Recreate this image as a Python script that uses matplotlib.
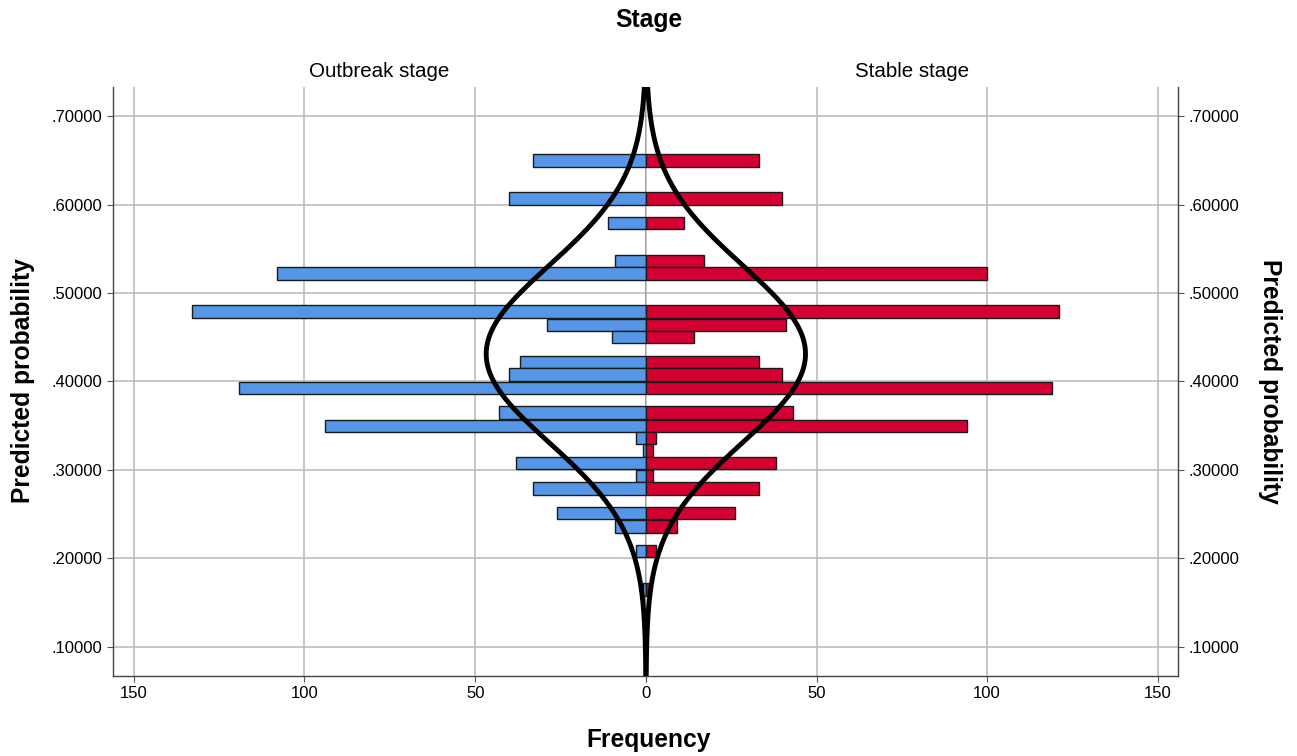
import numpy as np
import matplotlib.pyplot as plt

plt.rcParams['font.family'] = ['Liberation Sans', 'DejaVu Sans']

# bin centres of predicted probability and counts per stage
prob = [0.650, 0.607, 0.579, 0.536, 0.522, 0.479, 0.464, 0.450, 0.422, 0.408, 0.393,
        0.365, 0.350, 0.336, 0.322, 0.308, 0.293, 0.279, 0.251, 0.236, 0.208, 0.165]
outbreak = [33, 40, 11, 9, 108, 133, 29, 10, 37, 40, 119,
            43, 94, 3, 1, 38, 3, 33, 26, 9, 3, 1]
stable = [33, 40, 11, 17, 100, 121, 41, 14, 33, 40, 119,
          43, 94, 3, 2, 38, 2, 33, 26, 9, 3, 1]
bin_w = 0.01426

yticks = [0.1, 0.2, 0.3, 0.4, 0.5, 0.6, 0.7]
xticks = [0, 50, 100, 150]

fig = plt.figure(figsize=(12.97, 7.56), dpi=100)
axL = fig.add_axes([113/1297, 80/756, 533/1297, 589/756])
axR = fig.add_axes([646/1297, 80/756, 532/1297, 589/756])


def normal_curve(counts):
    c = np.array(counts, float)
    p = np.array(prob)
    n = c.sum()
    mu = (c * p).sum() / n
    sd = np.sqrt((c * (p - mu) ** 2).sum() / (n - 1))
    yy = np.linspace(0.067, 0.733, 400)
    return yy, n * bin_w / (sd * np.sqrt(2 * np.pi)) * np.exp(-(yy - mu) ** 2 / (2 * sd ** 2))


for ax, counts, col in [(axL, outbreak, '#5596e6'), (axR, stable, '#d50032')]:
    ax.set_ylim(0.067, 0.733)
    ax.set_xlim(0, 156)
    ax.barh(prob, counts, height=bin_w * 0.98, color=col, edgecolor='#1a1a1a',
            linewidth=1.0, zorder=3)
    yy, dens = normal_curve(counts)
    ax.plot(dens, yy, color='black', lw=3.5, zorder=4, clip_on=False,
            solid_capstyle='butt')
    ax.set_xticks(xticks)
    ax.set_yticks(yticks)
    ax.set_yticklabels(['.%05d' % round(v * 100000) for v in yticks])
    ax.grid(True, color='#bdbdbd', linewidth=1.2, zorder=0)
    ax.set_axisbelow(True)
    ax.tick_params(labelsize=12, length=4, color='#555555', width=0.8)
    for s in ax.spines.values():
        s.set_color('#444444')
        s.set_linewidth(1.0)
    ax.spines['top'].set_visible(False)

axL.invert_xaxis()
axL.spines['right'].set_visible(False)
axR.spines['left'].set_visible(False)
axR.yaxis.tick_right()
axR.tick_params(axis='y', labelright=True, labelleft=False)
axR.set_xticklabels(['', '50', '100', '150'])
axL.axvline(0, color='black', lw=1.0, zorder=5)

axL.set_title('Outbreak stage', fontsize=14.8, pad=7)
axR.set_title('Stable stage', fontsize=14.8, pad=7)

fig.text(0.5, 0.973, 'Stage', ha='center', va='center', fontsize=17.7, fontweight='bold')
fig.text(0.5, 0.021, 'Frequency', ha='center', va='center', fontsize=17.7, fontweight='bold')
fig.text(0.018, 0.496, 'Predicted probability', ha='center', va='center', rotation=90,
         fontsize=17.7, fontweight='bold')
fig.text(0.979, 0.496, 'Predicted probability', ha='center', va='center', rotation=270,
         fontsize=17.7, fontweight='bold')

fig.savefig('out.png', dpi=100)
